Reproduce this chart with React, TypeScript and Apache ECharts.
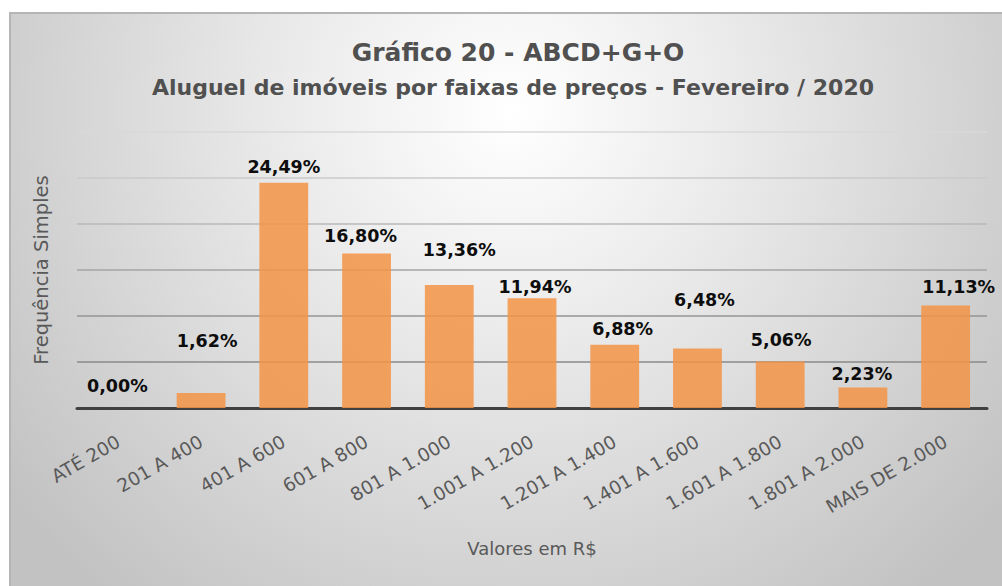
import React, { useEffect, useRef } from "react";
import * as echarts from "echarts";

const titleText = "Gráfico 20 - ABCD+G+O";
const subtitleText = "Aluguel de imóveis por faixas de preços - Fevereiro / 2020";
const xAxisName = "Valores em R$";
const yAxisName = "Frequência Simples";

const categories = [
  "ATÉ 200",
  "201 A 400",
  "401 A 600",
  "601 A 800",
  "801 A 1.000",
  "1.001 A 1.200",
  "1.201 A 1.400",
  "1.401 A 1.600",
  "1.601 A 1.800",
  "1.801 A 2.000",
  "MAIS DE 2.000",
];
const percentages = [0.0, 1.62, 24.49, 16.8, 13.36, 11.94, 6.88, 6.48, 5.06, 2.23, 11.13];

const yMin = 0;
const yMax = 30;
const yInterval = 5;

// label placement nudges (style only)
const labelLift = [13, 43, 7, 8, 26, 2, 7, 39, 12, 4, 10];
const labelShiftX = [-1, 6, 0, -6, 10, 3, 8, 7, 1, -1, 13];

const gridLineColors = ["#8c8c8c", "#8a8a8a", "#959595", "#a5a5a5", "#b8b8b8", "#cacaca", "#d8d8d8"];

const fmt = (v: number) => v.toFixed(2).replace(".", ",") + "%";

export default function App() {
  const ref = useRef<HTMLDivElement>(null);

  useEffect(() => {
    if (!ref.current) return;
    const chart = echarts.init(ref.current, undefined, { renderer: "svg" });
    const option: any = {
      animation: false,
      graphic: [
        {
          type: "rect",
          z: -10,
          silent: true,
          shape: { x: 10, y: 13, width: 996, height: 578 },
          style: {
            fill: {
              type: "radial",
              x: 510,
              y: 110,
              r: 630,
              global: true,
              colorStops: [
                { offset: 0, color: "#ffffff" },
                { offset: 0.35, color: "#ebebeb" },
                { offset: 1, color: "#c2c2c2" },
              ],
            },
            stroke: "#b5b5b5",
            lineWidth: 2,
          },
        },
        {
          type: "text",
          x: 518,
          y: 52,
          style: {
            text: titleText,
            align: "center",
            verticalAlign: "middle",
            fontFamily: "DejaVu Sans",
            fontWeight: "bold",
            fontSize: 25,
            fill: "#505050",
          },
        },
        {
          type: "text",
          x: 513,
          y: 87,
          style: {
            text: subtitleText,
            align: "center",
            verticalAlign: "middle",
            fontFamily: "DejaVu Sans",
            fontWeight: "bold",
            fontSize: 22,
            fill: "#505050",
          },
        },
      ],
      grid: { left: 77, right: 15, top: 132, bottom: 178, containLabel: false },
      xAxis: {
        type: "category",
        data: categories,
        name: xAxisName,
        nameLocation: "middle",
        nameGap: 131,
        nameTextStyle: { fontFamily: "DejaVu Sans", fontSize: 18, color: "#595959" },
        axisLine: { lineStyle: { color: "#404040", width: 3 } },
        axisTick: { show: false },
        axisLabel: {
          rotate: 30,
          margin: 32,
          interval: 0,
          fontFamily: "DejaVu Sans",
          fontSize: 18.5,
          color: "#595959",
        },
      },
      yAxis: {
        type: "value",
        min: yMin,
        max: yMax,
        interval: yInterval,
        name: yAxisName,
        nameLocation: "middle",
        nameRotate: 90,
        nameGap: 26,
        nameTextStyle: { fontFamily: "DejaVu Sans", fontSize: 19.5, color: "#595959" },
        axisLine: { show: false },
        axisTick: { show: false },
        axisLabel: { show: false },
        splitLine: { lineStyle: { color: gridLineColors, width: 1.5 } },
      },
      series: [
        {
          type: "bar",
          barCategoryGap: "41%",
          itemStyle: {
            color: "rgba(243,148,70,0.86)",
          },
          label: {
            show: true,
            position: "top",
            fontFamily: "DejaVu Sans",
            fontWeight: "bold",
            fontSize: 17.5,
            color: "#0d0d0d",
            formatter: (p: any) => fmt(p.value),
          },
          data: percentages.map((v, i) => ({
            value: v,
            label: { distance: labelLift[i], offset: [labelShiftX[i], 0] },
          })),
        },
      ],
    };
    chart.setOption(option);
    return () => chart.dispose();
  }, []);

  return (
    <div
      ref={ref}
      style={{ position: "fixed", left: 0, top: 0, width: 1002, height: 586, background: "#ffffff" }}
    />
  );
}
